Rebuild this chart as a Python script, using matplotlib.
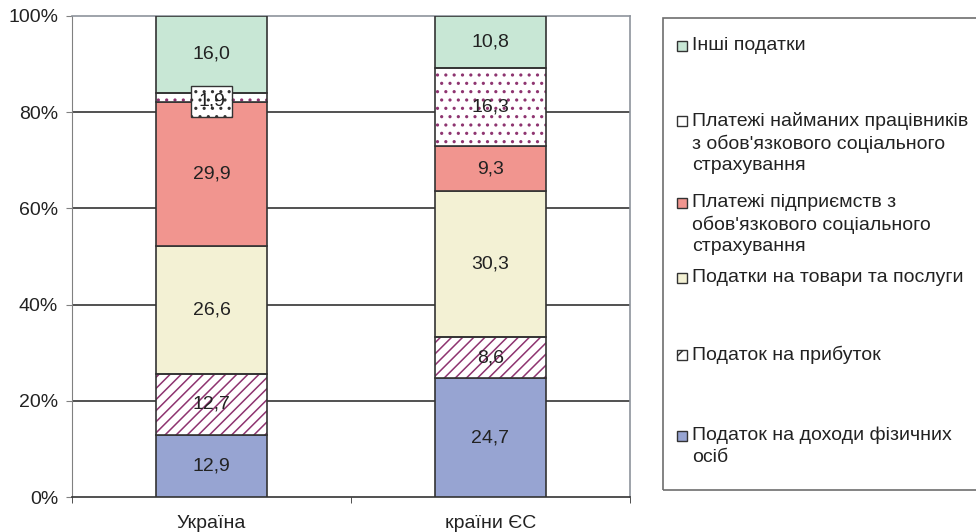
import numpy as np
import matplotlib.pyplot as plt
from matplotlib.patches import Rectangle

plt.rcParams['font.family'] = ['Liberation Sans', 'DejaVu Sans']
plt.rcParams['hatch.linewidth'] = 1.1

# ----------------------
# Data (percent shares)
# ----------------------
categories = ['Україна', 'країни ЄС']
series_labels = [
    'Податок на доходи фізичних\nосіб',
    'Податок на прибуток',
    'Податки на товари та послуги',
    'Платежі підприємств з\nобов\'язкового соціального\nстрахування',
    'Платежі найманих працівників\nз обов\'язкового соціального\nстрахування',
    'Інші податки',
]
ukraine = [12.9, 12.7, 26.6, 29.9, 1.9, 16.0]
eu = [24.7, 8.6, 30.3, 9.3, 16.3, 10.8]
yticks = [0, 20, 40, 60, 80, 100]

# style per series: face colour, hatch
face_colors = ['#97A4D2', 'white', '#F3F1D4', '#F1958F', 'white', '#C8E7D5']
hatches = [None, '///', None, None, '..', None]
hatch_color = '#8E3470'
edge_color = '#333333'
text_color = '#222222'

values = np.array([ukraine, eu]).T  # rows = series
x = np.arange(len(categories))
width = 0.4

fig = plt.figure(figsize=(9.76, 5.32), dpi=100)
ax = fig.add_axes([72 / 976, 35 / 532, 558 / 976, 481 / 532])

bottom = np.zeros(len(categories))
for i, vals in enumerate(values):
    if hatches[i]:
        ax.bar(x, vals, width, bottom=bottom, color='white', hatch=hatches[i],
               edgecolor=hatch_color, linewidth=0, zorder=3)
        ax.bar(x, vals, width, bottom=bottom, fill=False,
               edgecolor=edge_color, linewidth=1.2, zorder=4)
    else:
        ax.bar(x, vals, width, bottom=bottom, color=face_colors[i],
               edgecolor=edge_color, linewidth=1.2, zorder=3)
    for j, v in enumerate(vals):
        label = f'{v:.1f}'.replace('.', ',')
        yc = bottom[j] + v / 2
        if v < 5:
            # tiny segment: label sits in its own bordered box
            ax.text(x[j], yc - 0.8, label, ha='center', va='center', fontsize=14,
                    color=text_color, zorder=6,
                    bbox=dict(boxstyle='square,pad=0.35', fc='white',
                              ec=edge_color, lw=1, hatch='..'))
        else:
            ax.text(x[j], yc, label, ha='center', va='center', fontsize=14,
                    color=text_color, zorder=6)
    bottom += vals

ax.set_xlim(-0.5, 1.5)
ax.set_ylim(0, 100)
ax.set_yticks(yticks)
ax.set_yticklabels([f'{t}%' for t in yticks], fontsize=14, color=text_color)
ax.set_xticks(x)
ax.set_xticklabels(categories, fontsize=14, color=text_color)
ax.tick_params(axis='x', which='major', length=0, pad=13)
ax.set_xticks([-0.5, 0.5, 1.5], minor=True)
ax.tick_params(axis='x', which='minor', length=4.5, color='#333333')
ax.tick_params(axis='y', length=4.5, color='#808080', pad=5.5)

for t in yticks[1:-1]:
    ax.axhline(t, color='#222222', lw=1.1, zorder=1)

ax.spines['left'].set_color('#808080')
ax.spines['bottom'].set_color('#333333')
ax.spines['bottom'].set_linewidth(1.2)
for s in ['top', 'right']:
    ax.spines[s].set_color('#8E949C')
    ax.spines[s].set_linewidth(1.2)

# ----------------------
# Legend (manual, Excel-like uneven spacing)
# ----------------------
fig.patches.append(Rectangle((663 / 976, 1 - 490 / 532), 330 / 976, 472 / 532,
                             transform=fig.transFigure, fill=False,
                             edgecolor='#6E6E6E', lw=1.2))
legend_y = [436, 355, 278, 203, 121, 46]  # first text line centre, px from top
for i in range(len(series_labels)):
    yy = 1 - legend_y[i] / 532
    fig.patches.append(Rectangle((677 / 976, yy - 5 / 532), 10 / 976, 10 / 532,
                                 transform=fig.transFigure,
                                 facecolor=face_colors[i], edgecolor='#333333',
                                 lw=1, hatch=hatches[i] and hatches[i][:1]))
    fig.text(692 / 976, yy + 9 / 532, series_labels[i], ha='left', va='top',
             fontsize=14, color=text_color, linespacing=1.32)

fig.savefig('out.png', dpi=100)
